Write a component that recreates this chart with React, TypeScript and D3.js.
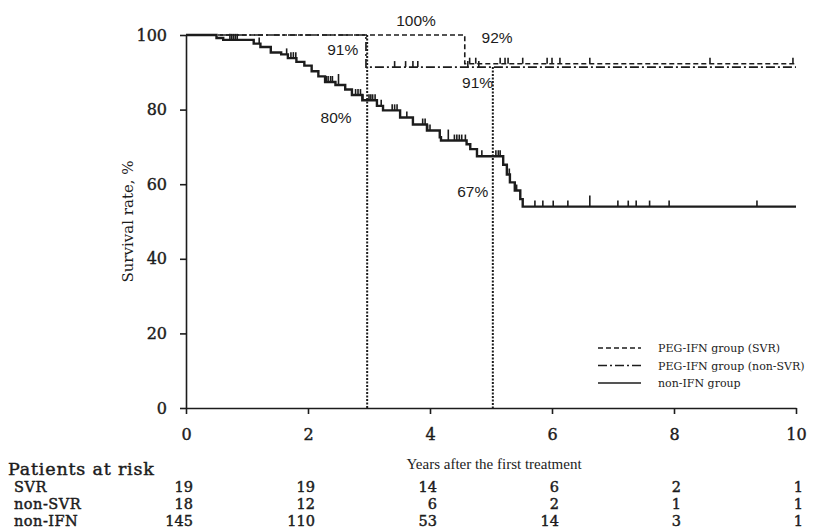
import React, { useEffect, useRef } from "react";
import * as d3 from "d3";

const yearTicks = [0, 2, 4, 6, 8, 10];
const survTicks = [0, 20, 40, 60, 80, 100];

// KM steps: time of step (years) and survival (%) after it
const svrTimes = [0, 4.57];
const svrSurv = [100, 92.3];
const svrCensor = [4.65, 4.75, 5.15, 5.23, 5.28, 5.52, 5.92, 6.0, 6.13, 6.62, 8.59, 9.95];

const nonSvrTimes = [0, 2.95];
const nonSvrSurv = [100, 91.4];
const nonSvrCensor = [3.42, 3.6, 3.72, 3.8, 4.62, 4.8];

const nonIfnTimes = [0, 0.5, 0.61, 1.11, 1.22, 1.39, 1.56, 1.67, 1.81, 1.94, 2.06, 2.17, 2.28, 2.45, 2.61, 2.72, 2.89, 3.13, 3.23, 3.51, 3.72, 3.95, 4.16, 4.18, 4.6, 4.66, 4.77, 5.2, 5.26, 5.31, 5.39, 5.48, 5.52];
const nonIfnSurv = [100, 99.2, 98.7, 97.7, 96.8, 95.3, 94.8, 93.8, 92.8, 91.8, 90.3, 88.9, 87.4, 86.6, 85.4, 83.9, 82.5, 81.0, 79.8, 77.9, 76.0, 74.4, 72.6, 71.7, 70.7, 69.4, 67.5, 65.2, 62.6, 60.5, 58.3, 56.0, 54.0];
const nonIfnCensor = [0.72, 0.75, 0.78, 0.81, 0.84, 1.2, 1.65, 1.72, 1.76, 1.8, 2.3, 2.33, 2.37, 2.4, 2.78, 2.82, 2.86, 2.9, 3.0, 3.03, 3.06, 3.1, 3.2, 3.38, 3.42, 3.46, 3.62, 3.88, 3.92, 3.96, 4.0, 4.4, 4.44, 4.48, 4.52, 4.58, 4.85, 5.08, 5.12, 5.15, 5.3, 5.42, 5.72, 5.85, 6.02, 6.26, 7.08, 7.25, 7.38, 7.6, 7.92, 9.36];
const nonIfnCensorLong = [2.5, 4.3, 6.62];

const markYears = [2.97, 5.03];

const annoText = ["100%", "92%", "91%", "91%", "80%", "67%"];
const annoYear = [3.77, 5.1, 2.57, 4.78, 2.46, 4.7];
const annoSurv = [100, 92.3, 100, 91.4, 80, 67.5];

const legendLabels = ["PEG-IFN group (SVR)", "PEG-IFN group (non-SVR)", "non-IFN group"];

const riskGroups = ["SVR", "non-SVR", "non-IFN"];
const riskSvr = [19, 19, 14, 6, 2, 1];
const riskNonSvr = [18, 12, 6, 2, 1, 1];
const riskNonIfn = [145, 110, 53, 14, 3, 1];

const SERIF = "'DejaVu Serif', serif";
const TIMES = "'Liberation Serif', serif";
const SANS = "'Liberation Sans', Arial, sans-serif";
const INK = "#1c1c1c";

export default function App() {
  const ref = useRef<SVGSVGElement>(null);

  useEffect(() => {
    const svg = d3.select(ref.current);
    svg.selectAll("*").remove();

    const x = d3.scaleLinear().domain([0, 10]).range([186, 796]);
    const y = d3.scaleLinear().domain([0, 100]).range([408, 35]);

    // axes
    const ay = svg.append("g").attr("transform", "translate(186,0)")
      .call(d3.axisLeft(y).tickValues(survTicks).tickSize(6).tickSizeOuter(0).tickPadding(13));
    const ax = svg.append("g").attr("transform", "translate(0,408)")
      .call(d3.axisBottom(x).tickValues(yearTicks).tickSize(6).tickSizeOuter(0).tickPadding(15));
    [ax, ay].forEach((g) => {
      g.selectAll("path, line").attr("stroke", INK).attr("stroke-width", 1.6);
      g.selectAll("text").attr("font-family", SERIF).attr("font-size", 16)
        .attr("fill", INK).attr("stroke", INK).attr("stroke-width", 0.4);
    });

    svg.append("text")
      .attr("transform", `translate(133,${y(50)}) rotate(-90)`)
      .attr("text-anchor", "middle")
      .attr("font-family", SERIF).attr("font-size", 15).attr("fill", INK)
      .text("Survival rate, %");
    svg.append("text")
      .attr("x", x(5.05)).attr("y", 469)
      .attr("text-anchor", "middle")
      .attr("font-family", TIMES).attr("font-size", 15).attr("fill", INK)
      .text("Years after the first treatment");

    // reference lines at 3 and 5 years
    markYears.forEach((t, i) => {
      svg.append("line")
        .attr("x1", x(t)).attr("x2", x(t))
        .attr("y1", i === 0 ? y(100) : y(91.4)).attr("y2", y(0))
        .attr("stroke", INK).attr("stroke-width", 2)
        .attr("stroke-dasharray", "2,1.5");
    });

    const stepAt = (times: number[], surv: number[], t: number) =>
      surv[d3.bisectRight(times, t) - 1];

    const line = d3.line<[number, number]>()
      .x((d) => x(d[0])).y((d) => y(d[1]))
      .curve(d3.curveStepAfter);

    const curves = [
      { times: svrTimes, surv: svrSurv, censor: svrCensor, dash: "5,3", w: 1.6 },
      { times: nonSvrTimes, surv: nonSvrSurv, censor: nonSvrCensor, dash: "9,3,2,3", w: 1.6 },
      { times: nonIfnTimes, surv: nonIfnSurv, censor: nonIfnCensor, dash: null, w: 2.4 },
    ];

    curves.forEach((c) => {
      const pts: [number, number][] = c.times.map((t, i) => [t, c.surv[i]]);
      pts.push([10, c.surv[c.surv.length - 1]]);
      svg.append("path")
        .attr("d", line(pts))
        .attr("fill", "none")
        .attr("stroke", INK)
        .attr("stroke-width", c.w)
        .attr("stroke-dasharray", c.dash);
      svg.append("g").selectAll("line").data(c.censor).join("line")
        .attr("x1", (t) => x(t)).attr("x2", (t) => x(t))
        .attr("y1", (t) => y(stepAt(c.times, c.surv, t)))
        .attr("y2", (t) => y(stepAt(c.times, c.surv, t)) - 6)
        .attr("stroke", INK).attr("stroke-width", 1.6);
    });
    svg.append("g").selectAll("line").data(nonIfnCensorLong).join("line")
      .attr("x1", (t) => x(t)).attr("x2", (t) => x(t))
      .attr("y1", (t) => y(stepAt(nonIfnTimes, nonIfnSurv, t)))
      .attr("y2", (t) => y(stepAt(nonIfnTimes, nonIfnSurv, t)) - 11)
      .attr("stroke", INK).attr("stroke-width", 1.6);

    // percentage annotations
    const annoDy = [-9, -21, 20, 21, 13, 41];
    annoText.forEach((txt, i) => {
      svg.append("text")
        .attr("x", x(annoYear[i])).attr("y", y(annoSurv[i]) + annoDy[i])
        .attr("text-anchor", "middle")
        .attr("font-family", SANS).attr("font-size", 15.5).attr("fill", INK)
        .text(txt);
    });

    // legend
    const dashes = ["5,3", "9,3,2,3", null];
    legendLabels.forEach((lab, i) => {
      const ly = 348 + i * 17.5;
      svg.append("line")
        .attr("x1", 598).attr("x2", 641).attr("y1", ly).attr("y2", ly)
        .attr("stroke", INK).attr("stroke-width", 1.5)
        .attr("stroke-dasharray", dashes[i]);
      svg.append("text")
        .attr("x", 658).attr("y", ly + 4)
        .attr("font-family", SERIF).attr("font-size", 11).attr("fill", INK)
        .text(lab);
    });

    // numbers at risk
    const risk = svg.append("g")
      .attr("font-family", SERIF).attr("fill", INK)
      .attr("stroke", INK).attr("stroke-width", 0.45);
    risk.append("text")
      .attr("x", 8).attr("y", 475)
      .attr("font-size", 17.5).attr("letter-spacing", 0.8)
      .text("Patients at risk");
    const riskRows = [riskSvr, riskNonSvr, riskNonIfn];
    riskRows.forEach((row, r) => {
      const ry = 492 + r * 16.8;
      risk.append("text")
        .attr("x", 14).attr("y", ry)
        .attr("font-size", 14.5).attr("letter-spacing", 0.5)
        .text(riskGroups[r]);
      row.forEach((n, j) => {
        risk.append("text")
          .attr("x", x(yearTicks[j]) + 7).attr("y", ry)
          .attr("text-anchor", "end")
          .attr("font-size", 14.5)
          .text(n);
      });
    });
  }, []);

  return (
    <svg
      ref={ref}
      width={840}
      height={529}
      style={{ position: "absolute", left: 0, top: 0, background: "#fff" }}
    />
  );
}
